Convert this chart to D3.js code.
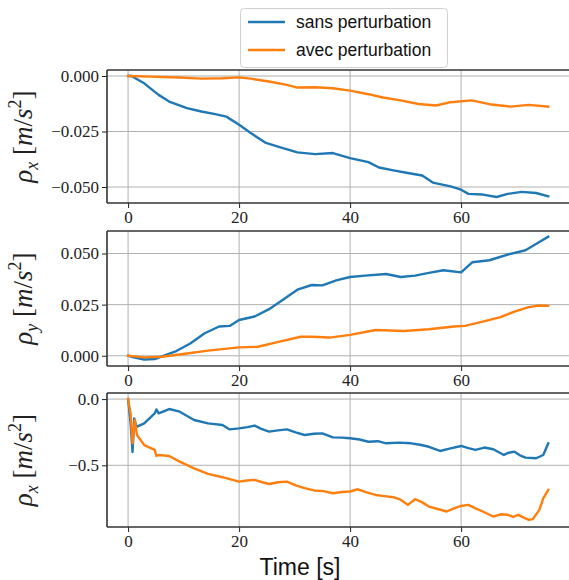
<!DOCTYPE html>
<html><head><meta charset="utf-8">
<script src="https://cdn.jsdelivr.net/npm/d3@7"></script>
<style>body{margin:0;background:#fff;} svg{display:block;} .serif{font-family:"Liberation Serif","DejaVu Serif",serif;} .sansf{font-family:"Liberation Sans",Arial,sans-serif;}</style>
</head><body>
<svg id="chart" width="569" height="580"></svg>
<script>
// ---------- data ----------
const seriesNames = ["sans perturbation", "avec perturbation"];
const seriesColors = ["#1f77b4", "#ff7f0e"];
const xTicks = [0, 20, 40, 60];
const xLabel = "Time [s]";

// panel 1 : rho_x
const p1Sans = [[0,0],[0.6,0],[2.9,-0.0033],[5.5,-0.0085],[7.4,-0.0115],[10.6,-0.0145],[13.2,-0.016],[15.7,-0.0172],[17.7,-0.0183],[20,-0.022],[22.1,-0.0257],[24.7,-0.030],[27.3,-0.032],[30.5,-0.0344],[33.7,-0.0352],[36.9,-0.0347],[40,-0.037],[43.3,-0.0388],[45.2,-0.0412],[47.8,-0.0425],[50.4,-0.0437],[53,-0.0448],[54.9,-0.048],[58.1,-0.0497],[60,-0.0512],[61.3,-0.0531],[63.9,-0.0534],[66.4,-0.0545],[68.4,-0.0531],[70.9,-0.0522],[73.5,-0.0527],[75.7,-0.0542]];
const p1Avec = [[0,0],[4,-0.0003],[9.3,-0.0007],[13.2,-0.0012],[17,-0.001],[20,-0.0006],[22.1,-0.0012],[25.4,-0.0025],[28.6,-0.004],[30.5,-0.0052],[33.7,-0.0051],[36.9,-0.0055],[40,-0.0066],[43.3,-0.0082],[45.9,-0.0097],[49.1,-0.011],[52.3,-0.0126],[55.5,-0.0133],[58.1,-0.0118],[61.9,-0.011],[65.1,-0.0127],[68.9,-0.0138],[72.2,-0.013],[75.7,-0.0138]];
const p1Ticks = [0, -0.025, -0.05];

// panel 2 : rho_y
const p2Sans = [[0,0],[1,-0.0008],[2.9,-0.0018],[4.8,-0.0016],[6.7,0.0003],[8.7,0.0023],[11.2,0.006],[13.8,0.011],[16.4,0.0143],[18.3,0.0146],[20,0.0175],[22.8,0.0192],[25.4,0.0228],[27.9,0.0274],[30.5,0.0323],[33.1,0.0346],[35,0.0344],[37.5,0.0369],[40,0.0385],[42.7,0.0392],[46.5,0.040],[49.1,0.0385],[51.7,0.0392],[54.2,0.0405],[56.8,0.0418],[60,0.0408],[62,0.0457],[65.1,0.0467],[68.4,0.0495],[71.6,0.0516],[74.1,0.0556],[75.7,0.0582]];
const p2Avec = [[0,0],[2.9,-0.0008],[6.1,-0.0005],[10.6,0.0011],[14.4,0.0025],[20,0.0041],[23.4,0.0044],[27.3,0.0069],[31.1,0.0093],[33.1,0.0093],[36.3,0.0089],[40,0.0102],[44.6,0.0126],[49.7,0.0121],[54.2,0.013],[58.7,0.0143],[60.7,0.0146],[63.9,0.0167],[67.1,0.0189],[69.6,0.0216],[72.2,0.0238],[74.1,0.0246],[75.7,0.0244]];
const p2Ticks = [0, 0.025, 0.05];

// panel 3 : rho_x (second)
const p3Sans = [[0,0],[0.45,-0.18],[0.8,-0.40],[1.1,-0.146],[1.5,-0.21],[2.9,-0.183],[4.8,-0.108],[5.1,-0.078],[5.5,-0.108],[7.4,-0.075],[9.3,-0.095],[11.9,-0.158],[14.4,-0.183],[17,-0.196],[18.3,-0.229],[20,-0.221],[21.5,-0.212],[22.8,-0.2],[24,-0.225],[25.4,-0.246],[27,-0.236],[28.6,-0.229],[30.2,-0.252],[31.8,-0.271],[33.5,-0.262],[35,-0.259],[36.9,-0.289],[38.5,-0.291],[40,-0.296],[41.7,-0.305],[43.3,-0.322],[45,-0.318],[46.5,-0.334],[48.8,-0.329],[51,-0.334],[52.6,-0.345],[54.2,-0.36],[56.2,-0.392],[58.1,-0.372],[60,-0.354],[61.3,-0.37],[62.6,-0.384],[64.2,-0.366],[65.8,-0.379],[67.7,-0.422],[68.6,-0.405],[69.6,-0.397],[70.6,-0.425],[71.6,-0.442],[73.5,-0.447],[74.8,-0.422],[75.7,-0.334]];
const p3Avec = [[0,0],[0.45,-0.108],[0.8,-0.334],[1.2,-0.158],[1.6,-0.271],[2.9,-0.347],[4.8,-0.384],[5.1,-0.43],[5.5,-0.422],[7.4,-0.43],[9.3,-0.472],[11.9,-0.523],[14.4,-0.565],[17,-0.59],[20,-0.623],[21.4,-0.615],[22.8,-0.61],[24.2,-0.628],[25.4,-0.641],[27,-0.628],[28.6,-0.623],[30.2,-0.652],[31.8,-0.673],[33.5,-0.69],[35.2,-0.695],[36.9,-0.711],[38.5,-0.702],[40,-0.698],[41.4,-0.681],[43,-0.705],[44.6,-0.724],[46.2,-0.733],[47.8,-0.741],[49.1,-0.76],[50.4,-0.799],[51.7,-0.756],[53,-0.78],[54.2,-0.812],[55.8,-0.83],[57.4,-0.849],[58.7,-0.825],[60,-0.807],[61.3,-0.799],[62.6,-0.825],[63.9,-0.849],[65.8,-0.887],[67.1,-0.87],[68.4,-0.874],[69.4,-0.89],[70.3,-0.874],[71.3,-0.895],[72.2,-0.912],[72.9,-0.907],[74.1,-0.837],[74.8,-0.749],[75.7,-0.686]];
const p3Ticks = [0, -0.5];

const panels = [
  {sans: p1Sans, avec: p1Avec, ticks: p1Ticks, fmt: ".3f", sub: "x", ydom: [-0.0572, 0.0027], top: 70, bottom: 203},
  {sans: p2Sans, avec: p2Avec, ticks: p2Ticks, fmt: ".3f", sub: "y", ydom: [-0.005, 0.061], top: 231, bottom: 366},
  {sans: p3Sans, avec: p3Avec, ticks: p3Ticks, fmt: ".1f", sub: "x", ydom: [-0.966, 0.046], top: 393, bottom: 527}
];

// ---------- drawing ----------
const svg = d3.select("#chart");
const left = 107, right = 571;
const x = d3.scaleLinear().domain([-3.8, 79.8]).range([left, right]);
const fmtMinus = f => v => d3.format(f)(v).replace("-", "\u2212");

panels.forEach((p, i) => {
  const y = d3.scaleLinear().domain(p.ydom).range([p.bottom, p.top]);
  const g = svg.append("g");
  // grid
  g.selectAll(".gx").data(xTicks).enter().append("line")
    .attr("x1", d => x(d)).attr("x2", d => x(d)).attr("y1", p.top).attr("y2", p.bottom)
    .attr("stroke", "#b0b0b0").attr("stroke-width", 1);
  g.selectAll(".gy").data(p.ticks).enter().append("line")
    .attr("x1", left).attr("x2", right).attr("y1", d => y(d)).attr("y2", d => y(d))
    .attr("stroke", "#b0b0b0").attr("stroke-width", 1);
  // lines
  const line = d3.line().x(d => x(d[0])).y(d => y(d[1]));
  [p.sans, p.avec].forEach((data, k) => {
    g.append("path").datum(data).attr("d", line).attr("fill", "none")
      .attr("stroke", seriesColors[k]).attr("stroke-width", 2.4)
      .attr("stroke-linejoin", "round").attr("stroke-linecap", "square");
  });
  // axes
  const ax = g.append("g").attr("transform", `translate(0,${p.bottom})`)
    .call(d3.axisBottom(x).tickValues(xTicks).tickFormat(d3.format("d")).tickSizeInner(5).tickSizeOuter(0).tickPadding(3));
  const ay = g.append("g").attr("transform", `translate(${left},0)`)
    .call(d3.axisLeft(y).tickValues(p.ticks).tickFormat(fmtMinus(p.fmt)).tickSizeInner(5).tickSizeOuter(0).tickPadding(3));
  [ax, ay].forEach(a => {
    a.attr("font-family", null).attr("font-size", null);
    a.select(".domain").remove();
    a.selectAll("line").attr("stroke", "#222").attr("stroke-width", 1);
    a.selectAll("text").attr("class", "serif").style("font-size", "17px").attr("fill", "#222");
  });
  // spines
  g.append("line").attr("x1", left).attr("x2", left).attr("y1", p.top).attr("y2", p.bottom).attr("stroke", "#333").attr("stroke-width", 1.6);
  g.append("line").attr("x1", left).attr("x2", 569).attr("y1", p.top).attr("y2", p.top).attr("stroke", "#333").attr("stroke-width", 1.6);
  g.append("line").attr("x1", left).attr("x2", 569).attr("y1", p.bottom).attr("y2", p.bottom).attr("stroke", "#333").attr("stroke-width", 1.6);
  // y label
  const cy = (p.top + p.bottom) / 2;
  const t = svg.append("text").attr("class", "serif").attr("transform", `translate(32,${cy}) rotate(-90)`)
    .attr("text-anchor", "middle").style("font-size", "27px").attr("fill", "#222");
  t.append("tspan").attr("font-style", "italic").text("ρ");
  t.append("tspan").attr("font-style", "italic").style("font-size", "18px").attr("dy", 6).text(p.sub);
  t.append("tspan").attr("dy", -6).text(" [");
  t.append("tspan").attr("font-style", "italic").text("m");
  t.append("tspan").text("/");
  t.append("tspan").attr("font-style", "italic").text("s");
  t.append("tspan").style("font-size", "18px").attr("dy", -11).text("2");
  t.append("tspan").attr("dy", 11).text("]");
});

// x label
svg.append("text").attr("class", "sansf").attr("x", 300).attr("y", 575).attr("text-anchor", "middle")
  .style("font-size", "23px").attr("fill", "#111").text(xLabel);

// legend
const lg = svg.append("g");
lg.append("rect").attr("x", 240.5).attr("y", 8.5).attr("width", 207).attr("height", 59).attr("rx", 4)
  .attr("fill", "#fff").attr("fill-opacity", 0.85).attr("stroke", "#d0d0d0").attr("stroke-width", 1);
seriesNames.forEach((n, k) => {
  const yy = 22 + k * 28;
  lg.append("line").attr("x1", 248).attr("x2", 285).attr("y1", yy).attr("y2", yy)
    .attr("stroke", seriesColors[k]).attr("stroke-width", 2.4);
  lg.append("text").attr("class", "sansf").attr("x", 296).attr("y", yy + 6).style("font-size", "17.5px")
    .attr("fill", "#111").text(n);
});
</script>
</body></html>
